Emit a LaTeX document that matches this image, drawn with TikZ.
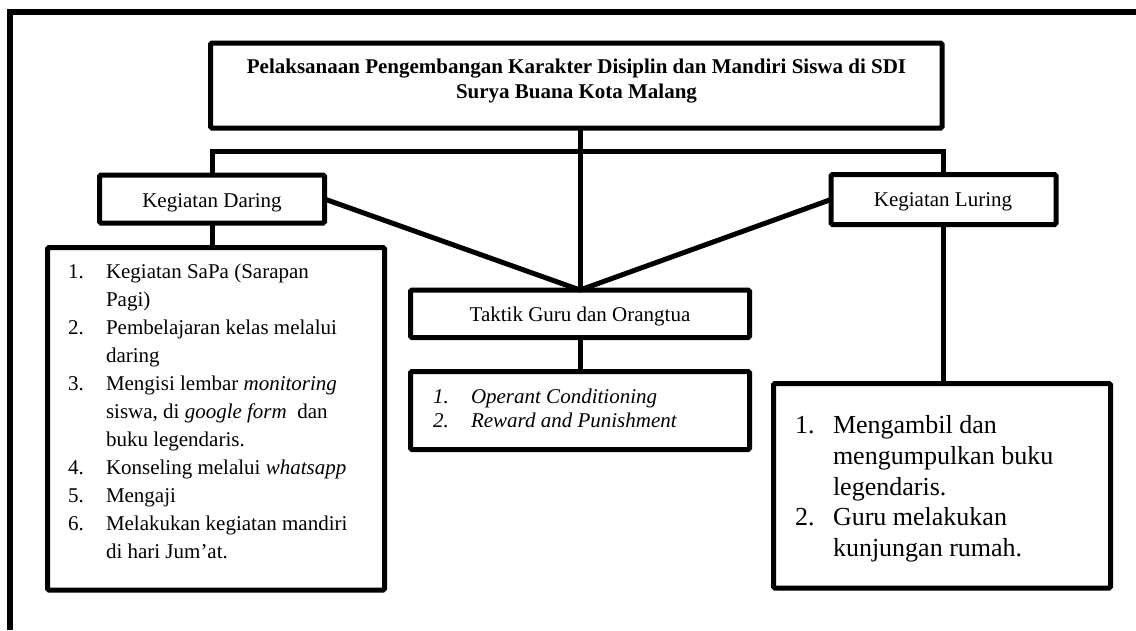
\documentclass[tikz,border=0pt]{standalone}
\usepackage{fontspec}
\setmainfont{Liberation Serif}
\begin{document}
\begin{tikzpicture}[x=1pt,y=-1pt,
  line width=5pt,
  box/.style={draw=black, line width=5pt, rounded corners=1.5pt, inner sep=0pt, outer sep=0pt, fill=white},
  conn/.style={draw=black, line width=5pt},
  txt/.style={inner sep=0pt, outer sep=0pt, font=\fontsize{21}{25}\selectfont},
  ttl/.style={txt, font=\fontsize{21}{25}\selectfont\bfseries},
  big/.style={inner sep=0pt, outer sep=0pt, font=\fontsize{26}{31}\selectfont}
]
\useasboundingbox (0,0) rectangle (1136,630);
% outer frame (only top and left edges visible)
\draw[line width=5.5pt] (1136,12) -- (10,12) -- (10,630);

% boxes
\node[box, minimum width=731.5pt, minimum height=85pt] (title) at (576.25,85.5) {};
\node[box, minimum width=225pt, minimum height=48pt] (daring) at (212,199) {};
\node[box, minimum width=225pt, minimum height=50pt] (luring) at (943.5,199.5) {};
\node[box, minimum width=339pt, minimum height=47.5pt] (taktik) at (580,313.75) {};
\node[box, minimum width=339pt, minimum height=78pt] (midlist) at (580,410.5) {};
\node[box, minimum width=337pt, minimum height=342.5pt] (leftlist) at (216,418.75) {};
\node[box, minimum width=337pt, minimum height=204.5pt] (rightlist) at (942,485.75) {};

% connectors
\begin{scope}[on background layer/.style={}]
\draw[conn] (daring.north) -- ++(0,-23.5) -| (luring.north);
\draw[conn] (taktik.north |- title.south) -- (taktik.north);
\draw[conn, line join=round] (daring.east) -- (taktik.north) -- (luring.west);
\draw[conn] (daring.south) -- (daring.south |- leftlist.north);
\draw[conn] (taktik.south) -- (taktik.south |- midlist.north);
\draw[conn] (luring.south) -- (luring.south |- rightlist.north);
\end{scope}

% title text
\node[ttl, anchor=base] (tl1) at (576.5,73) {Pelaksanaan Pengembangan Karakter Disiplin dan Mandiri Siswa di SDI};
\node[ttl, anchor=base] (tl2) at (576.5,98) {Surya Buana Kota Malang};

% labels
\node[txt, anchor=base] (dl) at (212,207) {Kegiatan Daring};
\node[txt, anchor=base] (ll) at (943,206) {Kegiatan Luring};
\node[txt, anchor=base] (tk) at (580,321) {Taktik Guru dan Orangtua};

% left list
\node[txt, anchor=base west] (n1) at (68,278) {1.};
\node[txt, anchor=base west] (a1) at (106,278) {Kegiatan SaPa (Sarapan};
\node[txt, anchor=base west] (a1b) at (106,306) {Pagi)};
\node[txt, anchor=base west] (n2) at (68,334) {2.};
\node[txt, anchor=base west] (a2) at (106,334) {Pembelajaran kelas melalui};
\node[txt, anchor=base west] (a2b) at (106,362) {daring};
\node[txt, anchor=base west] (n3) at (68,390) {3.};
\node[txt, anchor=base west] (a3) at (106,390) {Mengisi lembar \textit{monitoring}};
\node[txt, anchor=base west] (a3b) at (106,418) {siswa, di \textit{google form}\ \ dan};
\node[txt, anchor=base west] (a3c) at (106,446) {buku legendaris.};
\node[txt, anchor=base west] (n4) at (68,474) {4.};
\node[txt, anchor=base west] (a4) at (106,474) {Konseling melalui \textit{whatsapp}};
\node[txt, anchor=base west] (n5) at (68,502) {5.};
\node[txt, anchor=base west] (a5) at (106,502) {Mengaji};
\node[txt, anchor=base west] (n6) at (68,530) {6.};
\node[txt, anchor=base west] (a6) at (106,530) {Melakukan kegiatan mandiri};
\node[txt, anchor=base west] (a6b) at (106,558) {di hari Jum’at.};

% middle list
\node[txt, anchor=base west] (m1n) at (433,403) {\textit{1.}};
\node[txt, anchor=base west] (m1) at (471,403) {\textit{Operant Conditioning}};
\node[txt, anchor=base west] (m2n) at (433,427) {\textit{2.}};
\node[txt, anchor=base west] (m2) at (471,427) {\textit{Reward and Punishment}};

% right list
\node[big, anchor=base west] (r1n) at (795,433) {1.};
\node[big, anchor=base west] (r1) at (833,433) {Mengambil dan};
\node[big, anchor=base west] (r1b) at (833,464) {mengumpulkan buku};
\node[big, anchor=base west] (r1c) at (833,495) {legendaris.};
\node[big, anchor=base west] (r2n) at (795,525) {2.};
\node[big, anchor=base west] (r2) at (833,525) {Guru melakukan};
\node[big, anchor=base west] (r2b) at (833,556) {kunjungan rumah.};
\end{tikzpicture}
\end{document}
